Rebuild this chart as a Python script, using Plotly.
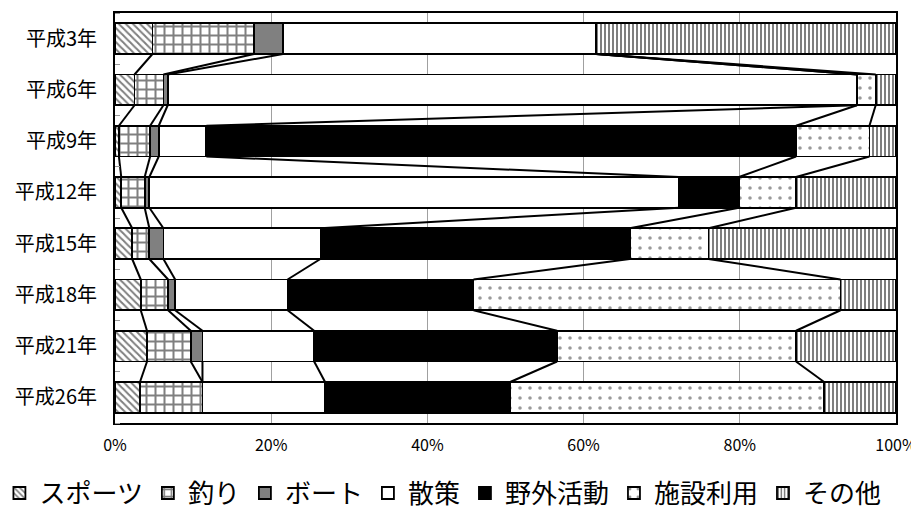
import plotly.graph_objects as go

years = ["平成3年", "平成6年", "平成9年", "平成12年", "平成15年", "平成18年", "平成21年", "平成26年"]
series_names = ["スポーツ", "釣り", "ボート", "散策", "野外活動", "施設利用", "その他"]
x_ticks = [0, 20, 40, 60, 80, 100]
x_tick_labels = ["0%", "20%", "40%", "60%", "80%", "100%"]

sports  = [4.8, 2.5, 0.5, 0.8, 2.2, 3.3, 4.1, 3.2]
fishing = [13.0, 3.7, 4.0, 3.0, 2.2, 3.5, 5.6, 8.0]
boat    = [3.7, 0.55, 1.1, 0.6, 1.8, 0.9, 1.5, 0.0]
walk    = [40.1, 88.25, 6.1, 67.8, 20.1, 14.4, 14.3, 15.7]
outdoor = [0.0, 0.0, 75.5, 7.7, 39.6, 23.8, 31.1, 23.7]
facility= [0.0, 2.4, 9.4, 7.3, 10.1, 47.0, 30.6, 40.2]
other   = [38.4, 2.6, 3.4, 12.8, 24.0, 7.1, 12.8, 9.2]

values = [sports, fishing, boat, walk, outdoor, facility, other]

styles = [
    dict(color="white", pattern=dict(shape="\\", fgcolor="black", bgcolor="white", size=5, solidity=0.4)),
    dict(color="white", pattern=dict(shape="+", fgcolor="black", bgcolor="white", size=9, solidity=0.4)),
    dict(color="#808080"),
    dict(color="white"),
    dict(color="black"),
    dict(color="white", pattern=dict(shape=".", fgcolor="#333333", bgcolor="white", size=10, solidity=0.1)),
    dict(color="white", pattern=dict(shape="|", fgcolor="black", bgcolor="white", size=4, solidity=0.5)),
]

BAR_W = 0.6
ypos = list(range(len(years)))

fig = go.Figure()
for name, vals, st in zip(series_names, values, styles):
    marker = dict(color=st["color"], line=dict(color="black", width=1.8))
    if "pattern" in st:
        marker["pattern"] = st["pattern"]
    fig.add_trace(go.Bar(
        y=ypos, x=vals, name=name, orientation="h", width=BAR_W,
        marker=marker,
    ))

# connector lines between adjacent bars at each cumulative boundary
cum = []
for i in range(len(years)):
    s = 0
    row = []
    for vals in values[:-1]:
        s += vals[i]
        row.append(s)
    cum.append(row)

lx, ly = [], []
for i in range(len(years) - 1):
    for j in range(len(values) - 1):
        lx += [cum[i][j], cum[i + 1][j], None]
        ly += [i + BAR_W / 2, i + 1 - BAR_W / 2, None]
fig.add_trace(go.Scatter(x=lx, y=ly, mode="lines", line=dict(color="black", width=2),
                         showlegend=False, hoverinfo="skip"))

fig.update_layout(
    width=919, height=517,
    barmode="stack",
    paper_bgcolor="white", plot_bgcolor="white",
    margin=dict(l=107, r=31, t=5, b=102, autoexpand=False),
    font=dict(family="Noto Sans CJK JP", color="black"),
    legend=dict(orientation="h", x=-0.148, xanchor="left", y=-0.171, yanchor="middle",
                font=dict(size=26), traceorder="normal", itemwidth=30,
                bgcolor="rgba(0,0,0,0)"),
    xaxis=dict(range=[0, 100], tickmode="array", tickvals=x_ticks, ticktext=x_tick_labels,
               showgrid=True, gridcolor="#a0a0a0", gridwidth=1, zeroline=False,
               showline=True, linecolor="black", linewidth=2, mirror=True,
               tickfont=dict(size=16), ticks="", automargin=False, ticklabelstandoff=7),
    yaxis=dict(range=[7.5, -0.5], tickmode="array", tickvals=ypos, ticktext=years, showgrid=False,
               zeroline=False, showline=True, linecolor="black", linewidth=2, mirror=True,
               tickfont=dict(size=20), ticks="", automargin=False, ticklabelstandoff=12,
               minor=dict(tick0=-0.5, dtick=1, ticks="inside", ticklen=5, tickcolor="#999999")),
)

fig.write_html("out.html")
